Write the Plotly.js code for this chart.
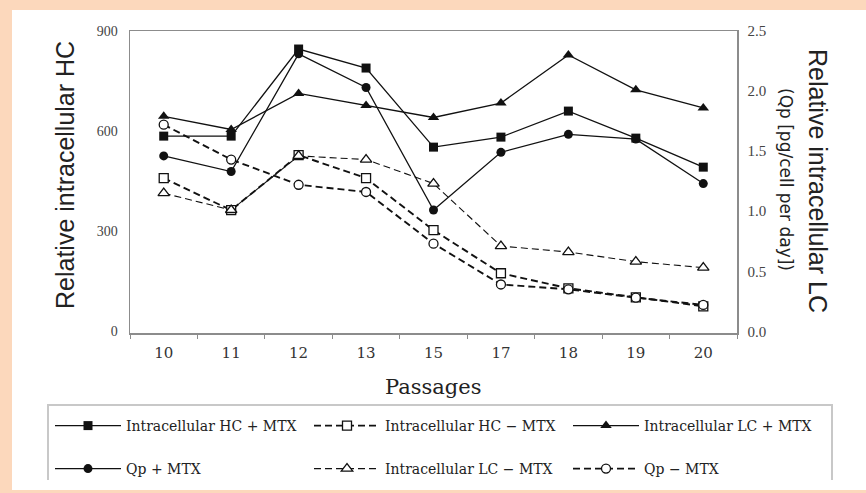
<!DOCTYPE html>
<html>
<head>
<meta charset="utf-8">
<script src="https://cdn.plot.ly/plotly-3.0.1.min.js"></script>
<style>html,body{margin:0;padding:0;background:#fcd8bc;}#chart{width:866px;height:493px;}</style>
</head>
<body>
<div id="chart"></div>
<script>
// Data
const passages = ['10','11','12','13','15','17','18','19','20'];
const hcPlus  = [585, 585, 846, 789, 552, 582, 660, 579, 492];   // left axis
const hcMinus = [459, 363, 528, 459, 303, 174, 129, 102, 75];    // left axis
const lcPlus  = [1.79, 1.68, 1.98, 1.88, 1.78, 1.90, 2.30, 2.01, 1.86]; // right axis
const qpPlus  = [1.46, 1.33, 2.31, 2.03, 1.01, 1.49, 1.64, 1.60, 1.23]; // right axis
const lcMinus = [1.15, 1.01, 1.46, 1.43, 1.23, 0.71, 0.66, 0.58, 0.53]; // right axis
const qpMinus = [1.72, 1.43, 1.22, 1.16, 0.73, 0.39, 0.35, 0.28, 0.22]; // right axis
const leftTicks = [0, 300, 600, 900];
const rightTicks = [0, 0.5, 1.0, 1.5, 2.0, 2.5];
const rightTickText = ['0.0', '0.5', '1.0', '1.5', '2.0', '2.5'];

const L = 130, R = 737, T = 31, B = 333, W = 866, H = 493;
const px = v => (v - L) / (R - L);
const py = v => (B - v) / (B - T);

const black = '#111';
function tr(name, y, axis, symbol, open, dash, width, legend) {
  return {
    type: 'scatter', mode: 'lines+markers', name: name,
    x: passages, y: y, yaxis: axis, legend: legend,
    line: {color: black, width: width, dash: dash},
    marker: {symbol: symbol, size: symbol === 'triangle-up' ? 10 : 9,
             color: open ? '#ffffff' : black,
             line: {color: black, width: open ? 1.3 : 0}},
    cliponaxis: false
  };
}

const traces = [
  tr('Intracellular HC + MTX', hcPlus, 'y', 'square', false, 'solid', 1.3, 'legend'),
  tr('Intracellular HC − MTX', hcMinus, 'y', 'square', true, '7px,4px', 1.9, 'legend2'),
  tr('Intracellular LC + MTX', lcPlus, 'y2', 'triangle-up', false, 'solid', 1.3, 'legend3'),
  tr('Qp + MTX', qpPlus, 'y2', 'circle', false, 'solid', 1.3, 'legend4'),
  tr('Intracellular LC − MTX', lcMinus, 'y2', 'triangle-up', true, '7px,4px', 1.1, 'legend5'),
  tr('Qp − MTX', qpMinus, 'y2', 'circle', true, '7px,4px', 1.9, 'legend6')
];

const axisGray = '#8c8c8c';
const serif = 'Liberation Serif, Times New Roman, serif';
const wideSerif = 'DejaVu Serif, serif';
const sans = 'Liberation Sans, Arial, sans-serif';
function leg(xp, yp) {
  return {
    x: px(xp), y: py(yp), orientation: 'h', xanchor: 'left', yanchor: 'middle',
    itemwidth: 66,
    font: {family: wideSerif, size: 14, color: '#222'},
    bgcolor: 'rgba(0,0,0,0)', borderwidth: 0, itemclick: false
  };
}

const layout = {
  width: W, height: H,
  margin: {l: L, r: W - R, t: T, b: H - B, pad: 0, autoexpand: false},
  paper_bgcolor: '#fcd8bc',
  plot_bgcolor: '#ffffff',
  showlegend: true,
  xaxis: {
    type: 'category', categoryorder: 'array', categoryarray: passages,
    range: [-0.5, 8.5], showline: true, linecolor: axisGray, linewidth: 1.5,
    mirror: true, ticks: 'outside', tickson: 'boundaries', ticklen: 4,
    tickcolor: axisGray, showgrid: false, zeroline: false,
    tickfont: {family: wideSerif, size: 15, color: '#333'}, ticklabelstandoff: 5
  },
  yaxis: {
    range: [-5, 900], tickvals: leftTicks, showline: true, linecolor: axisGray,
    linewidth: 1.5, showgrid: false, zeroline: false, ticks: '',
    tickfont: {family: serif, size: 14, color: '#444'}, ticklabelstandoff: 8
  },
  yaxis2: {
    overlaying: 'y', side: 'right', range: [-0.0139, 2.5],
    tickvals: rightTicks, ticktext: rightTickText, showline: true,
    linecolor: axisGray, linewidth: 1.5, showgrid: false, zeroline: false,
    ticks: '', tickfont: {family: serif, size: 15, color: '#444'}, ticklabelstandoff: 6
  },
  legend: leg(50, 426),
  legend2: leg(309, 426),
  legend3: leg(568, 426),
  legend4: leg(50, 469),
  legend5: leg(309, 469),
  legend6: leg(568, 469),
  shapes: [
    {type: 'rect', xref: 'paper', yref: 'paper', x0: px(12), x1: px(866),
     y0: py(490), y1: py(10), fillcolor: '#ffffff', line: {width: 0}, layer: 'below'},
    {type: 'path', xref: 'paper', yref: 'paper',
     path: 'M ' + px(48) + ' ' + py(480) + ' L ' + px(48) + ' ' + py(405) +
           ' L ' + px(832) + ' ' + py(405) + ' L ' + px(832) + ' ' + py(480),
     line: {color: '#c8c8c8', width: 2}}
  ],
  annotations: [
    {text: 'Relative intracellular HC', xref: 'paper', yref: 'paper', x: px(65), y: py(175),
     xanchor: 'center', yanchor: 'middle',
     showarrow: false, textangle: -90, font: {family: sans, size: 25, color: '#222'}},
    {text: 'Relative intracellular LC', xref: 'paper', yref: 'paper', x: px(818), y: py(181),
     xanchor: 'center', yanchor: 'middle',
     showarrow: false, textangle: 90, font: {family: sans, size: 25, color: '#222'}},
    {text: '(Qp [pg/cell per day])', xref: 'paper', yref: 'paper', x: px(786), y: py(179),
     xanchor: 'center', yanchor: 'middle',
     showarrow: false, textangle: 90, font: {family: 'DejaVu Sans, sans-serif', size: 17, color: '#222'}},
    {text: 'Passages', xref: 'paper', yref: 'paper', x: px(433), y: py(387),
     xanchor: 'center', yanchor: 'middle',
     showarrow: false, font: {family: wideSerif, size: 21, color: '#222'}}
  ]
};

Plotly.newPlot('chart', traces, layout, {staticPlot: true, displayModeBar: false});
</script>
</body>
</html>
